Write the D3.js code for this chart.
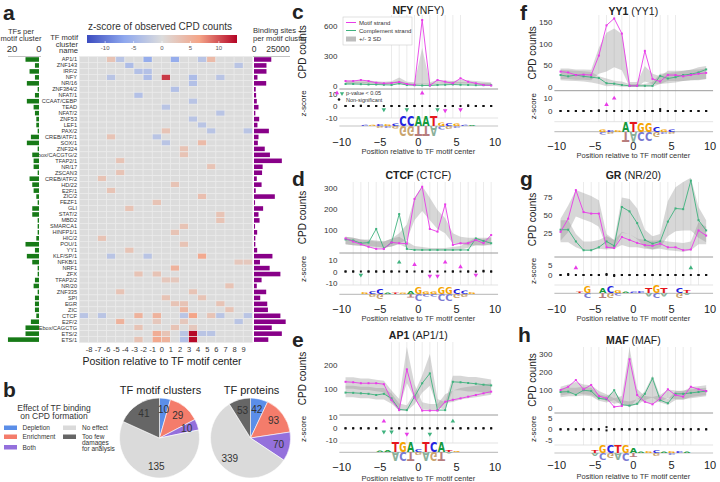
<!DOCTYPE html>
<html><head><meta charset="utf-8">
<script src="https://cdn.jsdelivr.net/npm/d3@7"></script>
<style>body{margin:0;background:#fff} svg{font-family:"Liberation Sans",Arial,sans-serif}</style>
</head><body><div id="fig"></div>
<script>
// ---------- panel a data ----------
var clusters = ["AP1/1","ZNF143","IRF/2","NFY","NR/16","ZNF384/2","NFAT/1","CCAAT/CEBP","TEAD","NFAT/2","ZNF53","LEF1","PAX/2","CREB/ATF/1","SOX/1","ZNF324","Ebox/CACGTG/2","TFAP2/1","NR/17","ZSCAN3","CREB/ATF/2","HD/22","E2F/1","ZIC/2","FEZF1","GLI","STAT/2","MBD2","SMARCA1","HINFP1/1","HIC/2","POU/1","YY1","KLF/SP/1","NFKB/1","NRF1","ZFX","TFAP2/2","NR/20","ZNF335","SPI","EGR","ZIC","CTCF","E2F/2","Ebox/CAGCTG","ETS/2","ETS/1"];
var tfsPerCluster = [10,3,7,3,9,1,3,9,4,3,2,2,1,6,9,1,5,4,4,1,7,5,4,2,1,5,5,1,1,1,2,10,3,9,5,1,1,3,4,1,3,3,3,2,6,10,10,23];
var bindingSites = [18000,13000,13000,3600,12700,1800,2200,2900,4700,1400,5400,3600,15500,4700,4000,11200,16600,29000,9000,8400,2900,7900,1800,21700,1100,9500,4700,5800,1100,3300,1400,1400,3300,19200,6200,16300,27500,7900,2900,12700,6500,13800,14500,27500,33000,18500,29000,14900];
var heatPositions = [-9,-8,-7,-6,-5,-4,-3,-2,-1,0,1,2,3,4,5,6,7,8,9];
var heatTickLabels = [-8,-7,-6,-5,-4,-3,-2,-1,0,1,2,3,4,5,6,7,8,9];
var colorbarTicks = [-10,-5,0,5,10];
// significant cells only: [cluster, position, z-score]
var heatCells = [
  ["AP1/1",-6,3],["AP1/1",-5,-3],["AP1/1",-2,-6],["AP1/1",1,-6],["AP1/1",4,-3],["AP1/1",5,4],
  ["ZNF143",-4,-4],["ZNF143",8,-3],["IRF/2",-3,-3.5],["IRF/2",-2,-3.5],
  ["NFY",-6,-3],["NFY",-2,-4],["NFY",0,11],["NFY",3,-4],["NFY",6,-3],
  ["NR/16",3,-3.5],["ZNF384/2",1,-3.5],["NFAT/1",-3,-3.5],["CCAAT/CEBP",3,-3],["TEAD",0,-3],
  ["NFAT/2",6,-3],["ZNF53",3,-3],["LEF1",4,-3],["PAX/2",0,3],["PAX/2",5,-3],["PAX/2",9,-3],
  ["CREB/ATF/1",-6,3],["CREB/ATF/1",-1,-3],["SOX/1",0,-3],["SOX/1",4,4],["ZNF324",2,3],
  ["Ebox/CACGTG/2",2,3],["TFAP2/1",-5,3],["NR/17",5,3],["ZSCAN3",-5,3],["CREB/ATF/2",-7,3],
  ["HD/22",1,3],["E2F/1",-6,3],["ZIC/2",4,3.5],["FEZF1",-1,3],["GLI",-4,3],["STAT/2",6,3],
  ["MBD2",6,3],["SMARCA1",2,3],["HINFP1/1",1,3],["HIC/2",-7,3],["POU/1",2,3],["YY1",-4,3],
  ["KLF/SP/1",-6,-3],["KLF/SP/1",-2,-3],["KLF/SP/1",4,6],["NFKB/1",8,2.5],["NFKB/1",9,2.5],
  ["NRF1",1,5],["ZFX",-3,3],["ZFX",-1,3],["TFAP2/2",0,2.5],["TFAP2/2",1,2.5],["NR/20",7,3],
  ["ZNF335",-5,3],["ZNF335",3,3],["SPI",0,3],["SPI",4,3],["EGR",1,3],["EGR",2,3],["EGR",6,3],
  ["ZIC",2,4.5],["ZIC",7,3],
  ["CTCF",-9,-3],["CTCF",-7,-3],["CTCF",-3,5],["CTCF",-1,5],["CTCF",2,-3],["CTCF",3,6.5],["CTCF",5,3],["CTCF",6,-3],["CTCF",9,-3],
  ["E2F/2",-5,5],["E2F/2",-1,2.5],["E2F/2",2,2.5],["E2F/2",8,-3],
  ["Ebox/CAGCTG",-3,3],["Ebox/CAGCTG",1,3],["Ebox/CAGCTG",3,2.5],
  ["ETS/2",-1,5.5],["ETS/2",0,3],["ETS/2",2,-3],["ETS/2",3,13],["ETS/2",4,-3],["ETS/2",5,-3],
  ["ETS/1",-3,3],["ETS/1",-1,6],["ETS/1",0,5],["ETS/1",2,-3.5],["ETS/1",3,13]
];

// ---------- panel b data ----------
var effectNames = ["Depletion","Enrichment","Both","No effect","Too few damages for analysis"];
var effectColors = ["#5b8ee8","#f47c6b","#9470dc","#dadada","#666666"];
var motifClusterCounts = [10,29,10,135,41];
var tfProteinCounts = [42,93,70,339,53];

// ---------- panels c-h data (positions relative to motif center) ----------
var profPos = [-9.5,-8.5,-7.5,-6.5,-5.5,-4.5,-3.5,-2.5,-1.5,-0.5,0.5,1.5,2.5,3.5,4.5,5.5,6.5,7.5,8.5,9.5];
var xTicks = [-10,-5,0,5,10];

var nfyMotif = [50,50,60,50,33,27,30,40,20,10,660,5,60,43,27,77,43,27,10,5];
var nfyComp = [20,20,18,15,15,12,10,25,10,8,5,5,10,12,15,12,10,8,8,8];
var nfyExpMotif = [40,40,45,40,35,30,35,60,30,25,200,25,45,40,35,45,40,35,30,25];
var nfySdMotif = [5,5,5,5,4,4,4,8,4,4,60,4,5,5,5,6,5,5,4,4];
var nfyExpComp = [30,30,30,28,25,22,25,35,20,15,15,15,20,25,30,28,25,22,20,20];
var nfySdComp = [4,4,4,4,4,3,4,6,3,3,3,3,3,4,5,4,4,3,3,3];
var nfyZMotif = [0,0,0.3,0,0,0,0,0,0,0,11,0,0,-4,0,-3,0,0,0,0];
var nfyZComp = [0,0,0,0,0,-3,0,0,-3,0,0,0,-3,0,0,0,0.6,0,0,0];

var ctcfMotif = [60,45,32,20,10,10,41,37,35,248,306,105,92,222,29,37,37,52,37,76];
var ctcfComp = [55,50,37,40,105,12,40,176,10,5,5,5,5,5,5,5,5,60,48,37];
var ctcfExpMotif = [50,45,40,35,30,30,40,60,90,200,250,200,150,120,60,50,45,45,40,50];
var ctcfSdMotif = [6,6,5,5,5,5,6,8,12,18,20,18,15,12,8,6,6,6,5,6];
var ctcfExpComp = [50,45,40,40,35,30,40,50,30,15,10,8,8,8,10,15,30,45,45,45];
var ctcfSdComp = [6,6,5,5,5,5,6,6,5,3,3,2,2,2,3,3,5,6,6,6];
var ctcfZMotif = [0,0,0,0,0,0,0,0,0,6,0,-4,-4,8,0,4,0,-3,0,0];
var ctcfZComp = [0,0,-3,0,0,0,0,8,0,0,0,0,0,0,0,0,0,0,0.6,0];

var ap1Motif = [130,128,124,124,124,120,54,12,182,65,10,10,10,47,55,61,68,75,82,89];
var ap1Comp = [85,84,82,80,75,80,61,15,12,68,124,165,12,12,130,128,125,122,118,115];
var ap1ExpMotif = [125,125,120,120,115,110,70,40,200,90,30,25,25,60,70,80,85,90,95,100];
var ap1SdMotif = [8,8,8,8,8,8,8,6,25,10,5,4,4,6,8,8,8,8,8,8];
var ap1ExpComp = [90,90,85,85,80,80,60,25,20,60,120,180,40,30,125,125,120,120,115,110];
var ap1SdComp = [8,8,8,8,8,8,7,5,4,8,12,22,6,5,10,10,10,10,10,10];
var ap1ZMotif = [0,0,0,0,0,6,0,0,-5,0,0,0,0,0,0,0,0,0,0,0];
var ap1ZComp = [0,0,0,0,0,-3,-3,0,0,0,0,-5,0,0,6,0,0,0,0,0];

var yy1Motif = [35,33,27,28,27,72,142,158,123,2,2,83,18,12,27,27,24,27,30,32];
var yy1Comp = [27,24,27,24,22,20,8,7,4,2,2,2,2,25,19,22,27,29,33,40];
var yy1ExpMotif = [30,30,28,28,27,60,80,90,80,5,5,30,18,15,25,25,25,27,28,30];
var yy1SdMotif = [4,4,4,4,4,10,15,15,14,2,2,6,4,3,4,4,4,4,4,4];
var yy1ExpComp = [27,26,25,24,22,15,10,8,6,3,3,3,5,18,20,22,25,27,30,33];
var yy1SdComp = [4,4,4,4,4,3,3,2,2,1,1,1,2,4,4,4,4,4,5,5];
var yy1ZMotif = [0,0,0,0,0,0,5,10,0,0,0,0,0,0,0,0,0,0,0,0];
var yy1ZComp = [0,0,0,0,0,0.5,0,0,0,0,0,0,0,1.5,0,0,0,0,0,0];

var grMotif = [27,45,84,54,52,52,6,5,20,16,12,9,8,11,6,6,2,3,29,22];
var grComp = [30,30,14,2,2,6,14,8,61,55,39,16,11,14,41,59,58,97,43,29];
var grExpMotif = [30,45,66,62,58,52,15,10,18,15,12,10,9,10,8,7,6,8,25,22];
var grSdMotif = [5,6,6,6,6,6,3,2,3,3,2,2,2,2,2,2,2,2,5,4];
var grExpComp = [28,28,15,8,8,10,12,10,50,48,38,18,12,15,45,58,62,65,40,28];
var grSdComp = [5,5,3,2,2,2,3,2,8,8,7,4,3,3,8,10,11,12,7,5];
var grZMotif = [0,0.5,3.5,0,0,0,0.5,0,0,0,0,0,0,0,0,0,0,0,0,0];
var grZComp = [0,0,0,0,0,0,0,-0.5,0,0,0,0,0,0,0,0,0,3.5,0,0];

var mafMotif = [101,119,156,105,129,68,55,8,13,271,73,36,22,55,105,73,64,119,105,95];
var mafComp = [90,92,75,100,95,55,50,100,20,15,25,80,165,45,28,80,80,85,90,95];
var mafExpMotif = [95,105,115,105,100,75,60,40,50,170,80,50,45,55,80,75,70,90,95,100];
var mafSdMotif = [8,9,10,9,9,7,6,5,6,55,9,6,6,6,8,8,8,9,9,9];
var mafExpComp = [85,90,90,95,90,60,50,70,30,25,35,70,120,50,35,70,75,80,85,90];
var mafSdComp = [8,8,8,8,8,6,6,8,5,4,5,8,20,6,5,8,8,8,8,8];
var mafZMotif = [0,0,0,0,0,0,1,0,0,0,0,0,0,0,0,0,0,0,0,0];
var mafZComp = [0,0,0,0,0,0,-0.5,0,0,0,0,0,0,0,0,0,0,0,0,0];

// sequence logos: [position, letter, relative height]
var nfyLogoTop = [[-7,"C",0.12],[-6,"G",0.12],[-5,"C",0.2],[-4,"G",0.2],[-3,"C",0.25],[-2,"C",1],[-1,"C",1],[0,"A",1],[1,"A",1],[2,"T",1],[3,"G",0.35],[4,"C",0.3],[5,"G",0.25],[6,"C",0.12],[7,"A",0.1]];
var nfyLogoBot = [[-5,"G",0.2],[-4,"C",0.2],[-3,"G",0.25],[-2,"G",1],[-1,"G",1],[0,"T",1],[1,"T",1],[2,"A",1],[3,"C",0.35],[4,"G",0.3],[5,"C",0.2]];
var ctcfLogoTop = [[-7,"G",0.2],[-6,"C",0.3],[-5,"C",0.55],[-4,"A",0.15],[-3,"T",0.15],[-2,"G",0.15],[-1,"A",0.3],[0,"G",0.6],[1,"G",0.25],[2,"G",0.25],[3,"G",0.6],[4,"G",0.6],[5,"C",0.45],[6,"C",0.35],[7,"G",0.2]];
var ctcfLogoBot = [[-6,"G",0.3],[-5,"G",0.55],[-1,"T",0.35],[0,"C",0.6],[1,"C",0.25],[2,"C",0.25],[3,"C",0.6],[4,"C",0.6],[5,"G",0.4],[6,"G",0.3]];
var ap1LogoTop = [[-5,"A",0.15],[-4,"A",0.2],[-3,"T",1],[-2,"G",1],[-1,"A",1],[0,"C",0.3],[1,"T",1],[2,"C",1],[3,"A",1],[4,"T",0.2],[5,"G",0.1]];
var ap1LogoBot = [[-3,"A",0.9],[-2,"C",0.9],[-1,"T",0.9],[0,"G",0.3],[1,"A",0.9],[2,"G",0.9],[3,"T",0.9],[4,"A",0.15]];
var yy1LogoTop = [[-4,"G",0.25],[-3,"C",0.2],[-2,"G",0.2],[-1,"A",1],[0,"T",1],[1,"G",0.95],[2,"G",0.95],[3,"C",0.45],[4,"G",0.25],[5,"C",0.25]];
var yy1LogoBot = [[-4,"C",0.25],[-3,"G",0.2],[-1,"T",1],[0,"A",1],[1,"C",0.95],[2,"C",0.95],[3,"G",0.45],[4,"C",0.2],[5,"G",0.2]];
var grLogoTop = [[-7,"T",0.15],[-6,"G",0.6],[-4,"A",0.55],[-3,"C",0.6],[-2,"G",0.3],[-1,"A",0.15],[0,"C",0.15],[1,"C",0.2],[2,"T",0.45],[3,"G",0.7],[4,"T",0.5],[6,"C",0.55],[7,"T",0.3]];
var grLogoBot = [[-6,"C",0.5],[-4,"T",0.45],[-3,"G",0.5],[-2,"C",0.25],[2,"A",0.35],[3,"C",0.55],[4,"A",0.35],[6,"G",0.45],[7,"A",0.2]];
var mafLogoTop = [[-5,"T",0.3],[-4,"G",0.7],[-3,"C",0.7],[-2,"T",0.8],[-1,"G",0.8],[0,"A",0.45],[1,"A",0.15],[2,"G",0.2],[3,"C",0.3],[4,"A",0.15],[5,"G",0.2],[6,"C",0.2],[7,"A",0.15]];
var mafLogoBot = [[-5,"A",0.3],[-4,"C",0.6],[-3,"G",0.55],[-2,"A",0.65],[-1,"C",0.7],[0,"T",0.4],[3,"G",0.3],[5,"C",0.2]];

var MAG = "#e83ce8", GRN = "#3fb27e";
var letterTop = {A:"#139a3c",C:"#2424e0",G:"#f5a400",T:"#e5161c"};
var letterBot = {A:"#8ab09a",C:"#7a7ad2",G:"#c9a46e",T:"#b77d7d"};

var svg = d3.select('#fig').append('svg').attr('width',720).attr('height',482);

function label(t,x,y,size,opts){
  opts = opts||{};
  return svg.append('text').attr('x',x).attr('y',y).attr('font-size',size)
    .attr('text-anchor',opts.anchor||'start').attr('font-weight',opts.bold?'bold':null)
    .attr('fill',opts.fill||'#222').text(t);
}

// ================= panel a =================
label('a',3,19.5,21,{bold:true});
label('TFs per',21,34,7.6,{anchor:'middle',fill:'#333'});
label('motif cluster',21,41,7.6,{anchor:'middle',fill:'#333'});
label('TF motif',78,40,7.6,{anchor:'end',fill:'#333'});
label('cluster',78,46.5,7.6,{anchor:'end',fill:'#333'});
label('name',78,53,7.6,{anchor:'end',fill:'#333'});
label('z-score of observed CPD counts',160,30,10,{anchor:'middle',fill:'#333'});
label('Binding sites',253,33,7.6,{fill:'#333'});
label('per motif cluster',253,40.5,7.6,{fill:'#333'});

var hx = d3.scaleBand().domain(heatPositions).range([79.4,252.3]);
var hy = d3.scaleBand().domain(clusters).range([56.5,342.6]);
var zColor = d3.scaleLinear().domain([-13.2,-6.6,0,6.6,13.2])
  .range(["#3b4cc0","#8fa8ee","#dcdcdc","#f4a487","#b40426"]);

var cellZ = {};
heatCells.forEach(function(c){ cellZ[c[0]+'|'+c[1]] = c[2]; });
var grid = [];
clusters.forEach(function(cl){ heatPositions.forEach(function(p){
  grid.push({c:cl,p:p,z:cellZ[cl+'|'+p]||0});
});});
svg.append('g').selectAll('rect').data(grid).enter().append('rect')
  .attr('x',function(d){return hx(d.p);}).attr('y',function(d){return hy(d.c);})
  .attr('width',hx.bandwidth()).attr('height',hy.bandwidth())
  .attr('fill',function(d){return zColor(d.z);})
  .attr('stroke','#ececec').attr('stroke-width',0.6);

svg.append('g').selectAll('text').data(clusters).enter().append('text')
  .attr('x',77).attr('y',function(d){return hy(d)+hy.bandwidth()/2+1.9;})
  .attr('text-anchor','end').attr('font-size',5.6).attr('fill','#333').text(function(d){return d;});

svg.append('g').selectAll('text').data(heatTickLabels).enter().append('text')
  .attr('x',function(d){return hx(d)+0.5;}).attr('y',352)
  .attr('text-anchor','middle').attr('font-size',7.5).attr('fill','#333').text(function(d){return d;});
label('Position relative to TF motif center',162,365,10.5,{anchor:'middle',fill:'#222'});

// colorbar
var cbx = d3.scaleLinear().domain([-13.2,13.2]).range([87,237]);
var grad = svg.append('defs').append('linearGradient').attr('id','cbar');
d3.range(0,1.0001,0.05).forEach(function(t){
  grad.append('stop').attr('offset',t).attr('stop-color',zColor(-13.2+26.4*t));
});
svg.append('rect').attr('x',87).attr('y',35).attr('width',150).attr('height',8).attr('fill','url(#cbar)');
svg.append('g').selectAll('text').data(colorbarTicks).enter().append('text')
  .attr('x',function(d){return cbx(d);}).attr('y',49.5).attr('text-anchor','middle')
  .attr('font-size',6).attr('fill','#555').text(function(d){return d;});
svg.append('g').selectAll('line').data(colorbarTicks).enter().append('line')
  .attr('x1',function(d){return cbx(d);}).attr('x2',function(d){return cbx(d);})
  .attr('y1',41).attr('y2',43).attr('stroke','#fff').attr('stroke-width',0.6);

// left bars: TFs per motif cluster
var lx = d3.scaleLinear().domain([0,20]).range([39,12]);
svg.append('g').selectAll('rect').data(clusters).enter().append('rect')
  .attr('x',function(d,i){return lx(tfsPerCluster[i]);})
  .attr('y',function(d){return hy(d)+0.7;})
  .attr('width',function(d,i){return lx(0)-lx(tfsPerCluster[i]);})
  .attr('height',hy.bandwidth()-1.4).attr('fill','#177a17');
svg.append('line').attr('x1',8).attr('x2',41).attr('y1',56.5).attr('y2',56.5).attr('stroke','#999').attr('stroke-width',0.6);
[0,20].forEach(function(v){
  label(v,lx(v),51.5,9.5,{anchor:'middle',fill:'#333'});
});

// right bars: binding sites
var rx = d3.scaleLinear().domain([0,25000]).range([254,278]);
svg.append('g').selectAll('rect').data(clusters).enter().append('rect')
  .attr('x',254).attr('y',function(d){return hy(d)+0.7;})
  .attr('width',function(d,i){return rx(bindingSites[i])-254;})
  .attr('height',hy.bandwidth()-1.4).attr('fill','#880088');
svg.append('line').attr('x1',253).attr('x2',290).attr('y1',56.5).attr('y2',56.5).attr('stroke','#999').attr('stroke-width',0.6);
[0,25000].forEach(function(v){
  label(v,rx(v),52,8.5,{anchor:'middle',fill:'#333'});
});

// ================= panel b =================
label('b',3,397,21,{bold:true});
label('Effect of TF binding',54,411,8.5,{anchor:'middle',fill:'#333'});
label('on CPD formation',54,419,8.5,{anchor:'middle',fill:'#333'});
var legItems = [[0,4,428],[1,4,437],[2,4,447.5],[3,63,428],[4,63,437]];
legItems.forEach(function(li){
  svg.append('rect').attr('x',li[1]).attr('y',li[2]-2.5).attr('width',13).attr('height',4.5).attr('fill',effectColors[li[0]]);
});
label('Depletion',22.5,430,6.5,{fill:'#333'});
label('Enrichment',22.5,439,6.5,{fill:'#333'});
label('Both',22.5,449.5,6.5,{fill:'#333'});
label('No effect',82,430,6.5,{fill:'#333'});
label('Too few',82,439,6.5,{fill:'#333'});
label('damages',82,445,6.5,{fill:'#333'});
label('for analysis',82,451,6.5,{fill:'#333'});

function drawPie(vals,cx,cy,r,title){
  label(title,cx+1,394,11,{anchor:'middle',fill:'#222'});
  var arcs = d3.pie().sort(null)(vals);
  var arc = d3.arc().innerRadius(0).outerRadius(r);
  var lab = d3.arc().innerRadius(r*0.72).outerRadius(r*0.72);
  var g = svg.append('g').attr('transform','translate('+cx+','+cy+')');
  g.selectAll('path').data(arcs).enter().append('path').attr('d',arc)
    .attr('fill',function(d,i){return effectColors[i];}).attr('stroke','#fff').attr('stroke-width',0.6);
  g.selectAll('text').data(arcs).enter().append('text')
    .attr('transform',function(d){return 'translate('+lab.centroid(d)+')';})
    .attr('dy','0.35em').attr('text-anchor','middle').attr('font-size',10).attr('fill','#333')
    .text(function(d){return d.data;});
}
drawPie(motifClusterCounts,159.5,438,40,'TF motif clusters');
drawPie(tfProteinCounts,250.5,438,40,'TF proteins');

// ================= panels c-h =================
function drawLetter(ch,cx,base,w,h,flip){
  if (h < 0.3) return;
  var fs = 10;
  var sy = h/(0.729*fs);
  svg.append('text').text(ch).attr('x',-w/2).attr('y',0)
    .attr('font-family','DejaVu Sans').attr('font-weight','bold').attr('font-size',fs)
    .attr('textLength',w).attr('lengthAdjust','spacingAndGlyphs')
    .attr('fill',flip?letterBot[ch]:letterTop[ch])
    .attr('transform','translate('+cx+','+base+') scale(1,'+(flip?-sy:sy)+')');
}

function drawProfile(p){
  var x = d3.scaleLinear().domain([-10,10]).range(p.xr);
  var y = d3.scaleLinear().domain(p.yDom).range(p.yr);
  var z = d3.scaleLinear().domain(p.zDom).range(p.zr);
  var x0 = x(-10.3), x1 = x(10.4);
  label(p.letter,p.letterX,p.letterY,21,{bold:true});
  var t = svg.append('text').attr('x',x(0)).attr('y',p.titleY).attr('text-anchor','middle').attr('font-size',10.5).attr('fill','#222');
  t.append('tspan').attr('font-weight','bold').text(p.name);
  t.append('tspan').text(' ('+p.cluster+')');

  // motif position lines
  d3.range(p.motif[0],p.motif[1]+0.01,1).forEach(function(v){
    svg.append('line').attr('x1',x(v)).attr('x2',x(v)).attr('y1',p.top).attr('y2',p.zBottom)
      .attr('stroke','#e2e2e2').attr('stroke-width',0.7);
  });
  // expected bands (+/- 3 SD)
  [[p.expM,p.sdM],[p.expC,p.sdC]].forEach(function(b){
    var area = d3.area().x(function(d,i){return x(profPos[i]);})
      .y0(function(d,i){return y(Math.max(0,b[0][i]-3*b[1][i]));})
      .y1(function(d,i){return y(b[0][i]+3*b[1][i]);});
    svg.append('path').datum(b[0]).attr('d',area).attr('fill','#9a9a9a').attr('fill-opacity',0.4);
  });
  // observed lines
  [[p.comp,GRN],[p.motifC,MAG]].forEach(function(s){
    var line = d3.line().x(function(d,i){return x(profPos[i]);}).y(function(d){return y(d);});
    svg.append('path').datum(s[0]).attr('d',line).attr('fill','none').attr('stroke',s[1]).attr('stroke-width',0.9);
    svg.append('g').selectAll('rect').data(s[0]).enter().append('rect')
      .attr('x',function(d,i){return x(profPos[i])-1;}).attr('y',function(d){return y(d)-1;})
      .attr('width',2).attr('height',2).attr('fill',s[1]);
  });
  // separators
  svg.append('line').attr('x1',x0).attr('x2',x1).attr('y1',p.sep).attr('y2',p.sep).attr('stroke','#9a9a9a').attr('stroke-width',1);
  svg.append('line').attr('x1',x0).attr('x2',x1).attr('y1',p.zBottom).attr('y2',p.zBottom).attr('stroke','#dcdcdc').attr('stroke-width',0.8);

  // y axis ticks
  p.yTicks.forEach(function(v){
    label(v,x0-2,y(v)+3,8,{anchor:'end',fill:'#333'});
  });
  p.zTicks.forEach(function(v){
    label(v,x0-2,z(v)+3,8,{anchor:'end',fill:'#333'});
  });
  svg.append('text').attr('transform','translate('+p.ylabX+','+((p.top+p.sep)/2)+') rotate(-90)')
    .attr('text-anchor','middle').attr('font-size',10).attr('fill','#222').text('CPD counts');
  svg.append('text').attr('transform','translate('+p.ylabX+','+((p.sep+p.zBottom)/2)+') rotate(-90)')
    .attr('text-anchor','middle').attr('font-size',8).attr('fill','#222').text('z-score');

  // z-scores
  [[p.zM,MAG],[p.zC,GRN]].forEach(function(s){
    s[0].forEach(function(v,i){
      var cx = x(profPos[i]), cy = z(v);
      if (Math.abs(v) >= 2.5){
        var sym = d3.symbol().type(d3.symbolTriangle).size(9);
        svg.append('path').attr('d',sym()).attr('fill',s[1])
          .attr('transform','translate('+cx+','+cy+')'+(v<0?' rotate(180)':''));
      } else {
        svg.append('rect').attr('x',cx-1).attr('y',cy-1).attr('width',2).attr('height',2).attr('fill','#111');
      }
    });
  });

  // logo
  svg.append('line').attr('x1',x0).attr('x2',x1).attr('y1',p.logoBase).attr('y2',p.logoBase).attr('stroke','#c4c4c4').attr('stroke-width',1.2);
  var lw = (x(1)-x(0))*0.96;
  p.logoTop.forEach(function(l){ drawLetter(l[1],x(l[0]),p.logoBase,lw,l[2]*10,false); });
  p.logoBot.forEach(function(l){ drawLetter(l[1],x(l[0]),p.logoBase,lw,l[2]*10,true); });

  // x axis
  xTicks.forEach(function(v){
    label(v<0?'\u2212'+(-v):v,x(v),p.xTickY,11,{anchor:'middle',fill:'#222'});
  });
  label('Position relative to TF motif center',x(0),p.xTitleY,7.5,{anchor:'middle',fill:'#333'});
}

var LX = [341.7,495], RX = [556.7,710];
drawProfile({letter:'c',letterX:292,letterY:19,name:'NFY',cluster:'NFY',xr:LX,titleY:14,
  top:15,sep:89,yDom:[0,600],yr:[86,26],yTicks:[0,300,600],
  zDom:[-10,10],zr:[117.7,94.3],zTicks:[-10,0,10],zBottom:118,ylabX:306,
  logoBase:126,xTickY:146,xTitleY:154,motif:[-3.5,5.5],
  motifC:nfyMotif,comp:nfyComp,expM:nfyExpMotif,sdM:nfySdMotif,expC:nfyExpComp,sdC:nfySdComp,
  zM:nfyZMotif,zC:nfyZComp,logoTop:nfyLogoTop,logoBot:nfyLogoBot});
drawProfile({letter:'d',letterX:292,letterY:186,name:'CTCF',cluster:'CTCF',xr:LX,titleY:179,
  top:182,sep:253,yDom:[0,300],yr:[251,188],yTicks:[100,200,300],
  zDom:[-10,10],zr:[283,260],zTicks:[-10,0,10],zBottom:285,ylabX:306,
  logoBase:294.3,xTickY:313,xTitleY:321,motif:[-8.5,9.5],
  motifC:ctcfMotif,comp:ctcfComp,expM:ctcfExpMotif,sdM:ctcfSdMotif,expC:ctcfExpComp,sdC:ctcfSdComp,
  zM:ctcfZMotif,zC:ctcfZComp,logoTop:ctcfLogoTop,logoBot:ctcfLogoBot});
drawProfile({letter:'e',letterX:292,letterY:347,name:'AP1',cluster:'AP1/1',xr:LX,titleY:339,
  top:342,sep:415,yDom:[0,200],yr:[413,365],yTicks:[100,200],
  zDom:[-10,10],zr:[440,416.6],zTicks:[-10,0,10],zBottom:443,ylabX:306,
  logoBase:452.3,xTickY:471,xTitleY:481,motif:[-3.5,4.5],
  motifC:ap1Motif,comp:ap1Comp,expM:ap1ExpMotif,sdM:ap1SdMotif,expC:ap1ExpComp,sdC:ap1SdComp,
  zM:ap1ZMotif,zC:ap1ZComp,logoTop:ap1LogoTop,logoBot:ap1LogoBot});
drawProfile({letter:'f',letterX:520,letterY:20,name:'YY1',cluster:'YY1',xr:RX,titleY:15,
  top:15,sep:90.7,yDom:[0,150],yr:[86.7,21.9],yTicks:[0,50,100,150],
  zDom:[0,10],zr:[111,98.3],zTicks:[0,10],zBottom:121.7,ylabX:536,
  logoBase:131.7,xTickY:150,xTitleY:158,motif:[-4.5,5.5],
  motifC:yy1Motif,comp:yy1Comp,expM:yy1ExpMotif,sdM:yy1SdMotif,expC:yy1ExpComp,sdC:yy1SdComp,
  zM:yy1ZMotif,zC:yy1ZComp,logoTop:yy1LogoTop,logoBot:yy1LogoBot});
drawProfile({letter:'g',letterX:520,letterY:186,name:'GR',cluster:'NR/20',xr:RX,titleY:179,
  top:182,sep:257,yDom:[0,75],yr:[251.7,196.7],yTicks:[25,50,75],
  zDom:[0,5],zr:[275,265],zTicks:[0,5],zBottom:285,ylabX:536,
  logoBase:293.3,xTickY:313,xTitleY:321,motif:[-6.5,8.5],
  motifC:grMotif,comp:grComp,expM:grExpMotif,sdM:grSdMotif,expC:grExpComp,sdC:grSdComp,
  zM:grZMotif,zC:grZComp,logoTop:grLogoTop,logoBot:grLogoBot});
drawProfile({letter:'h',letterX:518,letterY:342,name:'MAF',cluster:'MAF',xr:RX,titleY:344,
  top:347,sep:413,yDom:[0,300],yr:[408.3,354],yTicks:[0,100,200,300],
  zDom:[-5,5],zr:[440.3,418.3],zTicks:[-5,0,5],zBottom:445,ylabX:536,
  logoBase:453,xTickY:469,xTitleY:479,motif:[-6.5,7.5],
  motifC:mafMotif,comp:mafComp,expM:mafExpMotif,sdM:mafSdMotif,expC:mafExpComp,sdC:mafSdComp,
  zM:mafZMotif,zC:mafZComp,logoTop:mafLogoTop,logoBot:mafLogoBot});

// legends in panel c
var lg = svg.append('g');
lg.append('rect').attr('x',343).attr('y',17).attr('width',69).attr('height',28).attr('fill','#fff').attr('stroke','#ccc').attr('stroke-width',0.6);
lg.append('line').attr('x1',346).attr('x2',356).attr('y1',22.5).attr('y2',22.5).attr('stroke',MAG);
lg.append('line').attr('x1',346).attr('x2',356).attr('y1',30.5).attr('y2',30.5).attr('stroke',GRN);
lg.append('rect').attr('x',346).attr('y',36.5).attr('width',10).attr('height',5).attr('fill','#bdbdbd');
[['Motif strand',24.5],['Complement strand',32.5],['+/- 3 SD',40.8]].forEach(function(t){
  lg.append('text').attr('x',359).attr('y',t[1]).attr('font-size',6).attr('fill','#333').text(t[0]);
});
lg.append('path').attr('d',d3.symbol().type(d3.symbolTriangle).size(8)()).attr('fill',MAG).attr('transform','translate(337,93)');
lg.append('path').attr('d',d3.symbol().type(d3.symbolTriangle).size(8)()).attr('fill',GRN).attr('transform','translate(342,93.5) rotate(180)');
lg.append('circle').attr('cx',339).attr('cy',99.5).attr('r',1.3).attr('fill','#111');
lg.append('text').attr('x',346).attr('y',95).attr('font-size',5.5).attr('fill','#333').text('p-value < 0.05');
lg.append('text').attr('x',346).attr('y',101.5).attr('font-size',5.5).attr('fill','#333').text('Non-significant');
</script></body></html>
